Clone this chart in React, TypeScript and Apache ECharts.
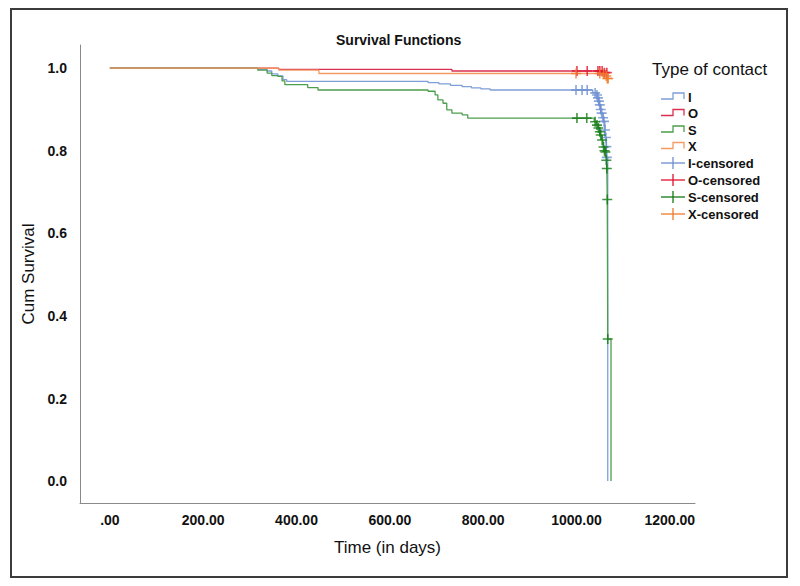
import React, { useEffect, useRef } from 'react';
import * as echarts from 'echarts';

// ---- data ----
const groupNames = ['I', 'O', 'S', 'X'];
const censorNames = ['I-censored', 'O-censored', 'S-censored', 'X-censored'];

const timesI = [0, 317, 337, 347, 360, 371, 379, 682, 705, 730, 755, 775, 795, 815, 1035, 1044, 1048, 1052, 1057, 1061, 1064, 1067];
const survI = [1.0, 0.997, 0.993, 0.986, 0.981, 0.972, 0.968, 0.965, 0.962, 0.958, 0.955, 0.952, 0.95, 0.947, 0.94, 0.928, 0.911, 0.891, 0.871, 0.832, 0.784, 0.0];

const timesO = [0, 362, 733, 1058, 1070];
const survO = [1.0, 0.997, 0.993, 0.989, 0.989];

const timesS = [0, 317, 337, 347, 360, 369, 375, 424, 446, 682, 697, 703, 714, 722, 733, 755, 767, 1038, 1043, 1046, 1050, 1054, 1057, 1061, 1064, 1065, 1066, 1067, 1074];
const survS = [1.0, 0.995, 0.988, 0.982, 0.98, 0.969, 0.96, 0.953, 0.947, 0.944, 0.935, 0.923, 0.915, 0.899, 0.891, 0.887, 0.879, 0.87, 0.862, 0.855, 0.838, 0.826, 0.809, 0.797, 0.777, 0.757, 0.682, 0.344, 0.0];

const timesX = [0, 362, 448, 1062, 1066, 1070];
const survX = [1.0, 0.995, 0.987, 0.981, 0.975, 0.975];

const censTimesI = [999, 1012, 1023, 1040, 1044, 1046, 1048, 1050, 1052, 1054, 1057, 1059, 1061, 1063, 1064, 1065];
const censSurvI = [0.947, 0.947, 0.947, 0.94, 0.935, 0.928, 0.92, 0.911, 0.9, 0.891, 0.88, 0.871, 0.85, 0.832, 0.81, 0.784];

const censTimesO = [1001, 1023, 1046, 1050, 1055, 1060, 1065];
const censSurvO = [0.993, 0.993, 0.993, 0.993, 0.993, 0.989, 0.989];

const censTimesS = [1001, 1022, 1040, 1044, 1047, 1050, 1052, 1055, 1058, 1060, 1062, 1064, 1065, 1066, 1067];
const censSurvS = [0.879, 0.879, 0.87, 0.862, 0.855, 0.846, 0.838, 0.826, 0.809, 0.8, 0.797, 0.777, 0.757, 0.682, 0.344];

const censTimesX = [999, 1050, 1058, 1064, 1066, 1068];
const censSurvX = [0.987, 0.987, 0.987, 0.981, 0.975, 0.975];

const xTicks = [0, 200, 400, 600, 800, 1000, 1200];
const yTicks = [0, 0.2, 0.4, 0.6, 0.8, 1.0];

const lineColors = ['#7f9fd8', '#d9304f', '#4c9f4c', '#f59a62'];
const censorColors = ['#6c8fd1', '#e0102f', '#137a13', '#f07a2a'];

const zip = (a: number[], b: number[]) => a.map((v, i) => [v, b[i]]);

const FONT = '"Liberation Sans", Arial, sans-serif';
const NARROW = '"Liberation Sans Narrow", "Arial Narrow", "Liberation Sans", sans-serif';

export default function App() {
  const ref = useRef<HTMLDivElement>(null);

  useEffect(() => {
    if (!ref.current) return;
    const chart = echarts.init(ref.current, null, { renderer: 'svg' });

    const stepData = [zip(timesI, survI), zip(timesO, survO), zip(timesS, survS), zip(timesX, survX)];
    const censData = [
      zip(censTimesI, censSurvI),
      zip(censTimesO, censSurvO),
      zip(censTimesS, censSurvS),
      zip(censTimesX, censSurvX),
    ];

    const series: any[] = [];
    groupNames.forEach((n, i) => {
      series.push({
        name: n,
        type: 'line',
        step: 'end',
        data: stepData[i],
        showSymbol: false,
        symbol: 'none',
        silent: true,
        z: 2,
        lineStyle: { color: lineColors[i], width: 1.3 },
      });
    });
    censorNames.forEach((n, i) => {
      series.push({
        name: n,
        type: 'scatter',
        data: censData[i],
        symbol: 'path://M5,0L5,10M0,5L10,5',
        symbolSize: 10,
        silent: true,
        z: 3,
        itemStyle: { color: 'rgba(0,0,0,0)', borderColor: censorColors[i], borderWidth: 1.6 },
      });
    });

    // legend drawn as graphics
    const legendX = 661;
    const legendItems: any[] = [];
    legendItems.push({
      type: 'text',
      left: 652,
      top: 61,
      style: { text: 'Type of contact', font: `17px ${FONT}`, fill: '#111' },
    });
    const itemY = [97, 113.5, 130, 146.5, 163, 180, 197, 214];
    groupNames.forEach((n, i) => {
      const c = itemY[i];
      legendItems.push({
        type: 'polyline',
        shape: { points: [[legendX, c + 2], [673, c + 2], [673, c - 4], [684, c - 4], [684, c + 2]] },
        style: { stroke: lineColors[i], lineWidth: 1.3, fill: null },
      });
      legendItems.push({
        type: 'text',
        x: 688,
        y: c,
        style: { text: n, font: `bold 13px ${FONT}`, fill: '#111', textVerticalAlign: 'middle' },
      });
    });
    censorNames.forEach((n, i) => {
      const c = itemY[i + 4];
      legendItems.push({
        type: 'line',
        shape: { x1: legendX, y1: c, x2: 685, y2: c },
        style: { stroke: censorColors[i], lineWidth: 1.3 },
      });
      legendItems.push({
        type: 'line',
        shape: { x1: 673, y1: c - 6, x2: 673, y2: c + 6 },
        style: { stroke: censorColors[i], lineWidth: 1.3 },
      });
      legendItems.push({
        type: 'text',
        x: 688,
        y: c,
        style: { text: n, font: `bold 13px ${FONT}`, fill: '#111', textVerticalAlign: 'middle' },
      });
    });

    chart.setOption({
      animation: false,
      backgroundColor: '#ffffff',
      title: {
        text: 'Survival Functions',
        left: 331,
        top: 28,
        textStyle: { fontFamily: FONT, fontSize: 14, fontWeight: 'bold', color: '#111' },
      },
      grid: { left: 80, right: 105, top: 45, bottom: 83 },
      xAxis: {
        type: 'value',
        min: -64,
        max: 1254,
        name: 'Time (in days)',
        nameLocation: 'middle',
        nameGap: 36,
        nameTextStyle: { fontFamily: FONT, fontSize: 17, color: '#111' },
        axisLine: { show: true, onZero: false, lineStyle: { color: '#8a8a8a', width: 1 } },
        axisTick: { show: false },
        splitLine: { show: false },
        axisLabel: {
          customValues: xTicks,
          margin: 10,
          fontFamily: NARROW,
          fontSize: 14,
          fontWeight: 'bold',
          color: '#111',
          formatter: (v: number) => (v === 0 ? '.00' : v.toFixed(2)),
        },
      },
      yAxis: {
        type: 'value',
        min: -0.053,
        max: 1.056,
        name: 'Cum Survival',
        nameLocation: 'middle',
        nameGap: 40,
        nameTextStyle: { fontFamily: FONT, fontSize: 17, color: '#111' },
        axisLine: { show: true, onZero: false, lineStyle: { color: '#8a8a8a', width: 1 } },
        axisTick: { show: false },
        splitLine: { show: false },
        axisLabel: {
          customValues: yTicks,
          margin: 13,
          fontFamily: NARROW,
          fontSize: 14,
          fontWeight: 'bold',
          color: '#111',
          formatter: (v: number) => v.toFixed(1),
        },
      },
      graphic: [
        {
          type: 'rect',
          shape: { x: 11, y: 9, width: 776, height: 568 },
          style: { fill: null, stroke: '#3c3c3c', lineWidth: 2 },
          silent: true,
        },
        ...legendItems,
      ],
      series,
    });

    return () => chart.dispose();
  }, []);

  return (
    <div
      ref={ref}
      style={{ position: 'absolute', left: 0, top: 0, width: 800, height: 586, background: '#fff' }}
    />
  );
}
